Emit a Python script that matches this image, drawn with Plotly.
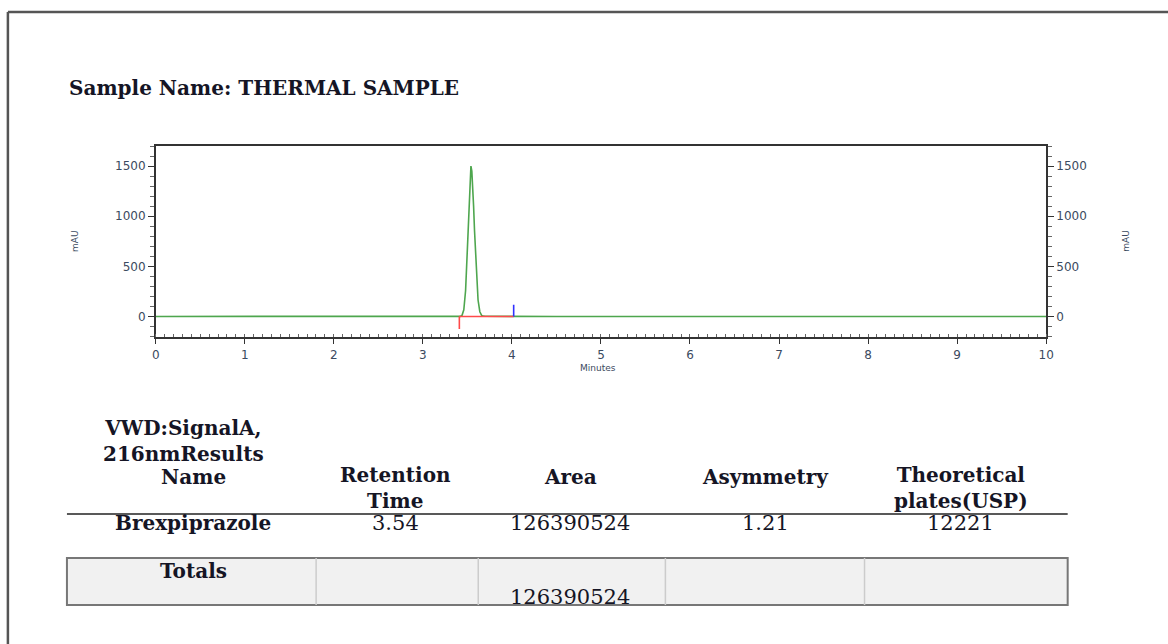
import plotly.graph_objects as go

# ---------------- data ----------------
sample_name = "Sample Name: THERMAL SAMPLE"

time_min = [0.0, 3.40, 3.42, 3.44, 3.46, 3.48, 3.50, 3.51, 3.52, 3.53, 3.54, 3.55,
            3.56, 3.57, 3.58, 3.60, 3.62, 3.64, 3.66, 3.68, 3.70, 4.00, 4.40, 4.45,
            4.50, 10.0]
signal_mau = [0, 0.1, 1, 11, 66, 259, 687, 967, 1234, 1428, 1500, 1449,
              1306, 1098, 862, 431, 164, 47, 10, 3, 2, 1, 0, 3,
              0, 0]

baseline_start = 3.41
baseline_end = 4.02
start_tick_mau = -125
end_tick_mau = 117

x_ticks = [0, 1, 2, 3, 4, 5, 6, 7, 8, 9, 10]
y_ticks = [0, 500, 1000, 1500]
x_range = [0, 10]
y_range = [-200, 1700]

table_title = ["VWD:SignalA,", "216nmResults"]
col_headers = [["Name"], ["Retention", "Time"], ["Area"], ["Asymmetry"],
               ["Theoretical", "plates(USP)"]]
peak_names = ["Brexpiprazole"]
retention_times = ["3.54"]
areas = ["126390524"]
asymmetry = ["1.21"]
plates = ["12221"]
totals_label = "Totals"
total_area = "126390524"

# ---------------- layout helpers ----------------
W, H = 1168, 644
SX, OX = 0.989, 4.1   # compensation for the horizontal rendering of the page


def px(x):
    return ((x - OX) / SX) / W


def py(y):
    return 1 - y / H


SERIF = "DejaVu Serif"
SANS = "DejaVu Sans"
TXT = "#151525"
TICK_COL = "#3b4a60"
AX_COL = "#333333"
FS = 20

fig = go.Figure()

fig.add_trace(go.Scatter(x=time_min, y=signal_mau, mode="lines",
                         line=dict(color="#4ea64e", width=1.6), showlegend=False))
# integration baseline and markers
fig.add_trace(go.Scatter(x=[baseline_start, baseline_start, None, baseline_start, baseline_end],
                         y=[start_tick_mau, 0, None, 0, 0], mode="lines",
                         line=dict(color="#ff4a4a", width=1.6), showlegend=False))
fig.add_trace(go.Scatter(x=[baseline_end, baseline_end], y=[0, end_tick_mau], mode="lines",
                         line=dict(color="#3030ff", width=1.6), showlegend=False))
# dummy trace for right axis
fig.add_trace(go.Scatter(x=[time_min[0]], y=[signal_mau[0]], yaxis="y2", mode="lines",
                         line=dict(width=0), showlegend=False, hoverinfo="skip"))

x_dom = [px(155.7), px(1045.5)]
y_dom = [py(336.5), py(146)]

axis_common = dict(showgrid=False, zeroline=False, showline=True, linecolor=AX_COL,
                   linewidth=1.5, ticks="outside", ticklen=6, tickcolor=AX_COL,
                   tickfont=dict(family=SANS, size=12, color=TICK_COL))

fig.update_layout(
    width=W, height=H, autosize=False,
    margin=dict(l=0, r=0, t=0, b=0),
    paper_bgcolor="white", plot_bgcolor="white",
    xaxis=dict(domain=x_dom, range=x_range, tickvals=x_ticks, mirror=True,
               minor=dict(dtick=0.1, ticks="inside", ticklen=3, tickcolor="#666"),
               **axis_common),
    yaxis=dict(domain=y_dom, range=y_range, tickvals=y_ticks, anchor="x",
               minor=dict(dtick=100, ticks="outside", ticklen=4, tickcolor="#666"),
               **axis_common),
    yaxis2=dict(range=y_range, tickvals=y_ticks, overlaying="y", side="right", anchor="x",
                minor=dict(dtick=100, ticks="outside", ticklen=4, tickcolor="#666"),
                **axis_common),
)


def text_ann(x, y, text, size=FS, family=SERIF, color=TXT, xanchor="center", angle=0):
    return dict(x=px(x), y=py(y), xref="paper", yref="paper", text=text,
                showarrow=False, xanchor=xanchor, yanchor="middle", textangle=angle,
                font=dict(family=family, size=size, color=color))


ann = []
ann.append(text_ann(67, 88, "<b>%s</b>" % sample_name, xanchor="left"))
ann.append(text_ann(75, 241, "mAU", size=9, family=SANS, color=TICK_COL, angle=-90))
ann.append(text_ann(1125, 241, "mAU", size=9, family=SANS, color=TICK_COL, angle=-90))
ann.append(text_ann(598, 368, "Minutes", size=9, family=SANS, color=TICK_COL))

# table
col_x = [193, 395, 570, 765, 960]
ann.append(text_ann(183, 441, "<br>".join("<b>%s</b>" % s for s in table_title)))
for cx, lines in zip(col_x, col_headers):
    yc = 477 if len(lines) == 1 else 488
    ann.append(text_ann(cx, yc, "<br>".join("<b>%s</b>" % s for s in lines)))
for r in range(len(peak_names)):
    row = [("<b>%s</b>" % peak_names[r]), retention_times[r], areas[r], asymmetry[r], plates[r]]
    for cx, val in zip(col_x, row):
        ann.append(text_ann(cx, 523 + 30 * r, val, size=FS if cx == col_x[0] else 21))
ann.append(text_ann(col_x[0], 571, "<b>%s</b>" % totals_label))
ann.append(text_ann(col_x[2], 597, total_area, size=21))

shapes = []
# page border (top and left)
shapes.append(dict(type="line", xref="paper", yref="paper", x0=px(8), x1=1.02,
                   y0=py(12), y1=py(12), line=dict(color="#555555", width=2.5)))
shapes.append(dict(type="line", xref="paper", yref="paper", x0=px(8), x1=px(8),
                   y0=py(12), y1=-0.02, line=dict(color="#555555", width=2.5)))
# header underline
shapes.append(dict(type="line", xref="paper", yref="paper", x0=px(67), x1=px(1067),
                   y0=py(514), y1=py(514), line=dict(color="#222222", width=1.5)))
# totals box
shapes.append(dict(type="rect", xref="paper", yref="paper", x0=px(67), x1=px(1067),
                   y0=py(558), y1=py(605), fillcolor="#f1f1f1",
                   line=dict(color="#777777", width=2), layer="below"))
for dx in [316, 478, 665, 864]:
    shapes.append(dict(type="line", xref="paper", yref="paper", x0=px(dx), x1=px(dx),
                       y0=py(558), y1=py(605), line=dict(color="#cccccc", width=1.5)))

fig.update_layout(annotations=ann, shapes=shapes)
fig.write_html("out.html", config={"displayModeBar": False},
               post_script="document.body.style.margin='0';document.body.style.padding='0';"
                           "document.body.style.overflow='hidden';")
